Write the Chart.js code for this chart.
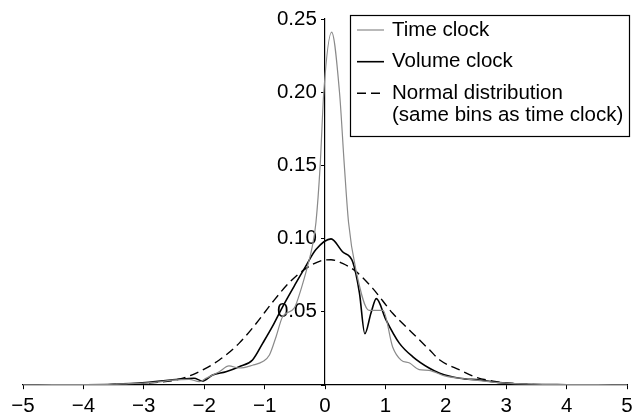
<!DOCTYPE html>
<html>
<head>
<meta charset="utf-8">
<script src="https://cdn.jsdelivr.net/npm/chart.js@4.4.0/dist/chart.umd.min.js"></script>
<style>
  html, body { margin: 0; padding: 0; background: #fff; }
  #wrap { width: 634px; height: 414px; position: relative; }
</style>
</head>
<body>
<div id="wrap"><canvas id="chart"></canvas></div>
<script>
// Density curves (x = standardised return, y = density)
const timeX = [-5, -4.5, -4, -3.5, -3.25, -3, -2.75, -2.53, -2.25, -2.08, -1.97, -1.75, -1.59, -1.42, -1.2, -1.03, -0.92, -0.81, -0.7, -0.51, -0.4, -0.29, -0.21, -0.15, -0.08, -0.02, 0.11, 0.24, 0.32, 0.39, 0.51, 0.73, 0.96, 1.12, 1.26, 1.4, 1.56, 1.72, 1.98, 2.39, 2.89, 3.5, 4, 4.5, 5];
const timeY = [0.0001, 0.0002, 0.0003, 0.0005, 0.001, 0.0013, 0.0022, 0.0033, 0.0039, 0.0023, 0.0046, 0.0091, 0.013, 0.0116, 0.0135, 0.016, 0.0205, 0.033, 0.0468, 0.0525, 0.065, 0.081, 0.0947, 0.111, 0.15, 0.2, 0.241, 0.2, 0.15, 0.111, 0.079, 0.051, 0.051, 0.026, 0.017, 0.015, 0.0105, 0.01, 0.0062, 0.0039, 0.0016, 0.0005, 0.0003, 0.0002, 0.0001];

const volX = [-5, -4, -3.5, -2.97, -2.42, -2.17, -2.03, -1.86, -1.64, -1.42, -1.2, -1.03, -0.87, -0.7, -0.48, -0.32, -0.15, 0.1, 0.29, 0.46, 0.57, 0.66, 0.76, 0.85, 1.01, 1.23, 1.45, 1.73, 1.9, 2.23, 2.56, 2.89, 3.2, 4, 5];
const volY = [0.0001, 0.0002, 0.0005, 0.0016, 0.0039, 0.0046, 0.0027, 0.0068, 0.0091, 0.0125, 0.0171, 0.0286, 0.04, 0.0536, 0.0697, 0.081, 0.0925, 0.0998, 0.091, 0.084, 0.063, 0.035, 0.049, 0.059, 0.0445, 0.0286, 0.0194, 0.0114, 0.008, 0.0046, 0.0034, 0.0016, 0.0007, 0.0002, 0.0001];

const normX = [-5, -4, -3.5, -2.97, -2.42, -2.14, -1.75, -1.42, -1.14, -0.87, -0.59, -0.32, -0.07, 0.1, 0.29, 0.51, 0.79, 1.12, 1.45, 1.73, 1.9, 2.23, 2.5, 2.84, 3.25, 4, 5];
const normY = [0, 0.0001, 0.0003, 0.0012, 0.0039, 0.008, 0.0171, 0.0286, 0.042, 0.0565, 0.07, 0.0795, 0.0848, 0.0856, 0.083, 0.0776, 0.066, 0.049, 0.0354, 0.024, 0.0171, 0.0103, 0.0053, 0.0023, 0.0007, 0.0001, 0];

const seriesNames = ["Time clock", "Volume clock", "Normal distribution\n(same bins as time clock)"];
const xTicks = [-5, -4, -3, -2, -1, 0, 1, 2, 3, 4, 5];

const FONT = "'Liberation Sans', Arial, Helvetica, sans-serif";
const toPoints = (xs, ys) => xs.map((x, i) => ({ x: x, y: ys[i] }));

// legend drawn as a framed box in the upper right corner
const boxLegend = {
  id: "boxLegend",
  afterDraw(chart) {
    const ctx = chart.ctx;
    const w = 280, h = 122;
    const left = chart.width - 4 - w, top = 15;
    ctx.save();
    ctx.fillStyle = "#fff";
    ctx.fillRect(left, top, w, h);
    ctx.strokeStyle = "#000";
    ctx.lineWidth = 1.2;
    ctx.strokeRect(left + 0.5, top + 0.5, w - 1, h - 1);
    ctx.font = "20.5px " + FONT;
    ctx.textBaseline = "middle";
    ctx.fillStyle = "#000";
    const rowY = [15, 46.7, 78.3];
    chart.data.datasets.forEach((ds, i) => {
      const y = top + rowY[i];
      ctx.beginPath();
      ctx.strokeStyle = ds.borderColor;
      ctx.lineWidth = ds.borderWidth;
      ctx.setLineDash(ds.borderDash || []);
      ctx.moveTo(left + 7, y);
      ctx.lineTo(left + 34, y);
      ctx.stroke();
      ctx.setLineDash([]);
      ds.label.split("\n").forEach((line, j) => {
        ctx.fillText(line, left + 42, y + j * 22);
      });
    });
    ctx.restore();
  }
};

const noPad = (scale) => {
  scale.paddingTop = 0; scale.paddingBottom = 0;
  scale.paddingLeft = 0; scale.paddingRight = 0;
};

new Chart(document.getElementById("chart"), {
  type: "line",
  plugins: [boxLegend],
  data: {
    datasets: [
      {
        label: seriesNames[0],
        data: toPoints(timeX, timeY),
        borderColor: "#8a8a8a",
        borderWidth: 1.2,
      },
      {
        label: seriesNames[1],
        data: toPoints(volX, volY),
        borderColor: "#000000",
        borderWidth: 1.6,
      },
      {
        label: seriesNames[2],
        data: toPoints(normX, normY),
        borderColor: "#000000",
        borderWidth: 1.4,
        borderDash: [9, 5],
      },
    ],
  },
  options: {
    responsive: true,
    maintainAspectRatio: false,
    animation: false,
    layout: { padding: { left: 23, right: 7, top: 19, bottom: 29 } },
    elements: {
      point: { radius: 0 },
      line: { cubicInterpolationMode: "monotone", fill: false },
    },
    plugins: {
      legend: { display: false },
      tooltip: { enabled: false },
    },
    scales: {
      x: {
        type: "linear",
        position: { y: 0 },
        min: -5,
        max: 5,
        afterFit: noPad,
        afterBuildTicks: (s) => { s.ticks = xTicks.map(v => ({ value: v })); },
        border: { display: true, color: "#000", width: 1.2 },
        grid: { drawOnChartArea: false, drawTicks: true, tickLength: 4, color: "#000", lineWidth: 1 },
        ticks: {
          color: "#000",
          padding: 5,
          maxRotation: 0,
          font: { family: FONT, size: 20.5 },
          callback: (v) => (v < 0 ? "\u2212" + Math.abs(v) : String(v)),
        },
      },
      y: {
        type: "linear",
        position: { x: 0 },
        min: 0,
        max: 0.25,
        afterFit: noPad,
        border: { display: true, color: "#000", width: 1.2 },
        grid: { drawOnChartArea: false, drawTicks: true, tickLength: 3, color: "#000", lineWidth: 1 },
        ticks: {
          stepSize: 0.05,
          color: "#000",
          padding: 7,
          font: { family: FONT, size: 20.5 },
          // labels sit right-aligned on the axis line, so keep a small gap after them
          callback: (v) => (v === 0 ? "" : v.toFixed(2) + "\u2009\u2009"),
        },
      },
    },
  },
});
</script>
</body>
</html>
